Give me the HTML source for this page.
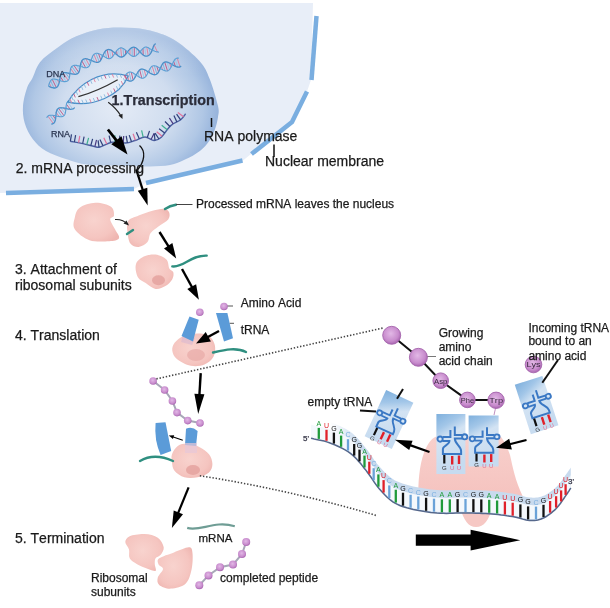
<!DOCTYPE html>
<html><head><meta charset="utf-8"><style>
html,body{margin:0;padding:0;background:#fff;}
svg{display:block;font-family:"Liberation Sans",sans-serif;will-change:transform;font-kerning:none;filter:blur(0.3px);}
</style></head><body>
<svg width="610" height="608" viewBox="0 0 610 608">
<defs>
<radialGradient id="nucG" gradientUnits="userSpaceOnUse" cx="118" cy="108" r="100" gradientTransform="translate(118,108) scale(1,0.78) translate(-118,-108)">
 <stop offset="0" stop-color="#e4ebf6"/>
 <stop offset="0.55" stop-color="#d0ddef"/>
 <stop offset="0.85" stop-color="#b0c7e5"/>
 <stop offset="1" stop-color="#97b4dc"/>
</radialGradient>
<linearGradient id="nucTop" gradientUnits="userSpaceOnUse" x1="0" y1="27" x2="0" y2="75">
 <stop offset="0" stop-color="#ffffff" stop-opacity="0.3"/>
 <stop offset="1" stop-color="#ffffff" stop-opacity="0"/>
</linearGradient>
<radialGradient id="pinkG" cx="0.45" cy="0.45" r="0.65">
 <stop offset="0" stop-color="#f8d3ce"/>
 <stop offset="0.7" stop-color="#f5c5c0"/>
 <stop offset="1" stop-color="#efb6b1"/>
</radialGradient>
<linearGradient id="boxG" x1="0" y1="0" x2="0.3" y2="1">
 <stop offset="0" stop-color="#7fb0dd"/>
 <stop offset="0.25" stop-color="#a2c6e8"/>
 <stop offset="0.45" stop-color="#d3e3f3"/>
 <stop offset="1" stop-color="#c6dbf0"/>
</linearGradient>
<linearGradient id="riboG" x1="0" y1="0" x2="0" y2="1">
 <stop offset="0" stop-color="#f8d0cc"/>
 <stop offset="1" stop-color="#f5c3bf"/>
</linearGradient>
<radialGradient id="ballG" cx="0.45" cy="0.4" r="0.6">
 <stop offset="0" stop-color="#e2b8e6"/>
 <stop offset="0.7" stop-color="#c88ccd"/>
 <stop offset="1" stop-color="#a865b0"/>
</radialGradient>
</defs>
<path d="M0,3 L313,3 L311,80 L307,91.5 L292,122 L251,154 L243,160.5 L146,183 L134,189 L0,193 Z" fill="#e8eef8"/>
<g stroke="#7aaee0" stroke-width="4.5" fill="none" stroke-linecap="butt"><path d="M316.5,16 L311.5,80"/><path d="M307,91.5 L292,122 L251.5,154"/><path d="M242.5,160.5 L146,183"/><path d="M134,189 L6,193"/></g>
<path d="M40.0,62.2 C43.9,57.4 50.5,53.0 55.7,49.1 C61.0,45.2 65.4,41.7 71.5,38.6 C77.6,35.5 85.5,32.5 92.5,30.7 C99.5,28.9 106.4,28.0 113.4,27.6 C120.4,27.2 127.4,27.4 134.4,28.1 C141.4,28.8 148.4,29.8 155.4,32.0 C162.4,34.2 169.0,36.3 176.4,41.2 C183.8,46.1 194.4,55.2 199.9,61.4 C205.4,67.6 206.5,71.0 209.5,78.4 C212.5,85.8 216.6,99.6 218.0,106.0 C219.4,112.4 218.5,113.0 218.0,117.0 C217.5,121.0 216.2,125.8 214.8,129.7 C213.4,133.6 212.0,136.8 209.5,140.4 C207.0,144.0 204.0,147.8 199.9,151.0 C195.8,154.2 190.0,157.3 185.0,159.6 C180.0,161.9 175.8,163.9 170.0,165.0 C164.2,166.1 157.0,166.2 150.0,166.4 C143.0,166.6 138.2,166.3 128.0,166.0 C117.8,165.7 99.1,166.0 88.7,164.8 C78.3,163.6 72.9,161.3 65.8,159.0 C58.7,156.7 51.5,154.3 46.0,151.0 C40.5,147.7 36.4,144.0 32.9,139.3 C29.3,134.6 26.3,128.6 24.7,123.0 C23.1,117.5 22.6,111.8 23.0,106.0 C23.4,100.2 25.4,92.7 27.0,88.0 C28.6,83.3 30.3,82.3 32.5,78.0 C34.7,73.7 36.1,67.0 40.0,62.2Z" fill="url(#nucG)"/>
<path d="M40.0,62.2 C43.9,57.4 50.5,53.0 55.7,49.1 C61.0,45.2 65.4,41.7 71.5,38.6 C77.6,35.5 85.5,32.5 92.5,30.7 C99.5,28.9 106.4,28.0 113.4,27.6 C120.4,27.2 127.4,27.4 134.4,28.1 C141.4,28.8 148.4,29.8 155.4,32.0 C162.4,34.2 169.0,36.3 176.4,41.2 C183.8,46.1 194.4,55.2 199.9,61.4 C205.4,67.6 206.5,71.0 209.5,78.4 C212.5,85.8 216.6,99.6 218.0,106.0 C219.4,112.4 218.5,113.0 218.0,117.0 C217.5,121.0 216.2,125.8 214.8,129.7 C213.4,133.6 212.0,136.8 209.5,140.4 C207.0,144.0 204.0,147.8 199.9,151.0 C195.8,154.2 190.0,157.3 185.0,159.6 C180.0,161.9 175.8,163.9 170.0,165.0 C164.2,166.1 157.0,166.2 150.0,166.4 C143.0,166.6 138.2,166.3 128.0,166.0 C117.8,165.7 99.1,166.0 88.7,164.8 C78.3,163.6 72.9,161.3 65.8,159.0 C58.7,156.7 51.5,154.3 46.0,151.0 C40.5,147.7 36.4,144.0 32.9,139.3 C29.3,134.6 26.3,128.6 24.7,123.0 C23.1,117.5 22.6,111.8 23.0,106.0 C23.4,100.2 25.4,92.7 27.0,88.0 C28.6,83.3 30.3,82.3 32.5,78.0 C34.7,73.7 36.1,67.0 40.0,62.2Z" fill="url(#nucTop)"/>
<line x1="51.2" y1="87.3" x2="49.4" y2="83.3" stroke="#e07a9a" stroke-width="0.9"/>
<line x1="54.0" y1="88.0" x2="50.6" y2="80.8" stroke="#7fb0d8" stroke-width="0.9"/>
<line x1="56.3" y1="87.5" x2="52.2" y2="79.3" stroke="#c05080" stroke-width="0.9"/>
<line x1="58.0" y1="85.8" x2="54.4" y2="79.0" stroke="#9ec4e6" stroke-width="0.9"/>
<line x1="59.1" y1="83.0" x2="57.2" y2="79.7" stroke="#e07a9a" stroke-width="0.9"/>
<line x1="59.8" y1="79.8" x2="60.4" y2="80.8" stroke="#7fb0d8" stroke-width="0.9"/>
<line x1="60.4" y1="76.7" x2="63.5" y2="81.5" stroke="#c05080" stroke-width="0.9"/>
<line x1="61.3" y1="74.3" x2="66.2" y2="81.5" stroke="#9ec4e6" stroke-width="0.9"/>
<line x1="63.0" y1="72.9" x2="68.2" y2="80.3" stroke="#e07a9a" stroke-width="0.9"/>
<line x1="65.4" y1="72.6" x2="69.3" y2="78.0" stroke="#7fb0d8" stroke-width="0.9"/>
<line x1="68.5" y1="73.1" x2="69.8" y2="75.0" stroke="#c05080" stroke-width="0.9"/>
<line x1="71.7" y1="73.9" x2="70.1" y2="71.6" stroke="#9ec4e6" stroke-width="0.9"/>
<line x1="74.7" y1="74.3" x2="70.7" y2="68.6" stroke="#e07a9a" stroke-width="0.9"/>
<line x1="77.1" y1="73.9" x2="71.9" y2="66.5" stroke="#7fb0d8" stroke-width="0.9"/>
<line x1="78.7" y1="72.4" x2="73.9" y2="65.4" stroke="#c05080" stroke-width="0.9"/>
<line x1="79.6" y1="69.9" x2="76.6" y2="65.4" stroke="#9ec4e6" stroke-width="0.9"/>
<line x1="80.1" y1="66.8" x2="79.8" y2="66.2" stroke="#e07a9a" stroke-width="0.9"/>
<line x1="80.8" y1="63.5" x2="82.9" y2="67.2" stroke="#7fb0d8" stroke-width="0.9"/>
<line x1="81.8" y1="60.8" x2="85.7" y2="67.7" stroke="#c05080" stroke-width="0.9"/>
<line x1="83.5" y1="59.2" x2="87.9" y2="67.2" stroke="#9ec4e6" stroke-width="0.9"/>
<line x1="85.8" y1="58.7" x2="89.4" y2="65.6" stroke="#e07a9a" stroke-width="0.9"/>
<line x1="88.7" y1="59.4" x2="90.5" y2="63.0" stroke="#7fb0d8" stroke-width="0.9"/>
<line x1="91.7" y1="60.6" x2="91.4" y2="59.8" stroke="#c05080" stroke-width="0.9"/>
<line x1="94.7" y1="61.8" x2="92.4" y2="56.7" stroke="#9ec4e6" stroke-width="0.9"/>
<line x1="97.2" y1="62.4" x2="93.9" y2="54.4" stroke="#e07a9a" stroke-width="0.9"/>
<line x1="99.3" y1="61.8" x2="95.9" y2="53.4" stroke="#7fb0d8" stroke-width="0.9"/>
<line x1="100.8" y1="59.9" x2="98.5" y2="53.6" stroke="#c05080" stroke-width="0.9"/>
<line x1="102.1" y1="57.2" x2="101.3" y2="54.8" stroke="#9ec4e6" stroke-width="0.9"/>
<line x1="103.4" y1="54.2" x2="104.2" y2="56.6" stroke="#e07a9a" stroke-width="0.9"/>
<line x1="105.1" y1="51.5" x2="106.7" y2="58.1" stroke="#7fb0d8" stroke-width="0.9"/>
<line x1="107.1" y1="49.8" x2="109.0" y2="58.7" stroke="#c05080" stroke-width="0.9"/>
<line x1="109.5" y1="49.6" x2="111.0" y2="58.1" stroke="#9ec4e6" stroke-width="0.9"/>
<line x1="112.0" y1="50.7" x2="112.8" y2="56.2" stroke="#e07a9a" stroke-width="0.9"/>
<line x1="114.5" y1="52.7" x2="114.6" y2="53.6" stroke="#7fb0d8" stroke-width="0.9"/>
<line x1="117.0" y1="54.9" x2="116.6" y2="50.9" stroke="#c05080" stroke-width="0.9"/>
<line x1="119.3" y1="56.5" x2="118.6" y2="48.8" stroke="#9ec4e6" stroke-width="0.9"/>
<line x1="121.6" y1="57.0" x2="120.7" y2="47.9" stroke="#e07a9a" stroke-width="0.9"/>
<line x1="123.7" y1="56.2" x2="123.0" y2="48.3" stroke="#7fb0d8" stroke-width="0.9"/>
<line x1="125.7" y1="54.2" x2="125.4" y2="50.0" stroke="#c05080" stroke-width="0.9"/>
<line x1="127.7" y1="51.6" x2="127.7" y2="52.3" stroke="#9ec4e6" stroke-width="0.9"/>
<line x1="129.9" y1="49.2" x2="130.0" y2="54.6" stroke="#e07a9a" stroke-width="0.9"/>
<line x1="132.1" y1="47.6" x2="132.2" y2="56.1" stroke="#7fb0d8" stroke-width="0.9"/>
<line x1="134.3" y1="47.3" x2="134.3" y2="56.4" stroke="#c05080" stroke-width="0.9"/>
<line x1="136.5" y1="48.4" x2="136.5" y2="55.3" stroke="#9ec4e6" stroke-width="0.9"/>
<line x1="138.7" y1="50.5" x2="138.7" y2="53.2" stroke="#e07a9a" stroke-width="0.9"/>
<line x1="140.9" y1="53.0" x2="140.9" y2="50.7" stroke="#7fb0d8" stroke-width="0.9"/>
<line x1="143.2" y1="55.1" x2="143.0" y2="48.5" stroke="#c05080" stroke-width="0.9"/>
<line x1="145.8" y1="56.1" x2="144.8" y2="47.2" stroke="#9ec4e6" stroke-width="0.9"/>
<line x1="148.2" y1="55.6" x2="146.8" y2="47.1" stroke="#e07a9a" stroke-width="0.9"/>
<line x1="150.4" y1="53.7" x2="148.9" y2="48.1" stroke="#7fb0d8" stroke-width="0.9"/>
<line x1="151.9" y1="50.8" x2="151.5" y2="49.7" stroke="#c05080" stroke-width="0.9"/>
<line x1="153.0" y1="47.6" x2="154.5" y2="51.1" stroke="#9ec4e6" stroke-width="0.9"/>
<line x1="154.1" y1="45.0" x2="157.4" y2="51.9" stroke="#e07a9a" stroke-width="0.9"/>
<path d="M48.5,86.2 L49.2,86.5 L49.9,86.8 L50.6,87.1 L51.2,87.3 L51.9,87.6 L52.5,87.7 L53.2,87.9 L53.8,88.0 L54.4,88.0 L54.9,88.0 L55.4,87.9 L56.0,87.7 L56.4,87.5 L56.9,87.2 L57.2,86.8 L57.6,86.4 L58.0,85.9 L58.2,85.3 L58.5,84.8 L58.8,84.1 L59.0,83.4 L59.2,82.7 L59.3,82.0 L59.5,81.3 L59.6,80.5 L59.8,79.8 L59.9,79.0 L60.0,78.3 L60.1,77.6 L60.3,76.9 L60.5,76.3 L60.7,75.7 L60.8,75.2 L61.1,74.7 L61.4,74.2 L61.7,73.8 L62.0,73.5 L62.4,73.2 L62.9,73.0 L63.4,72.8 L63.9,72.7 L64.4,72.7 L65.0,72.6 L65.7,72.7 L66.3,72.7 L67.0,72.8 L67.7,73.0 L68.5,73.1 L69.2,73.3 L70.0,73.5 L70.7,73.6 L71.4,73.8 L72.2,73.9 L72.9,74.1 L73.6,74.2 L74.2,74.2 L74.9,74.3 L75.5,74.3 L76.0,74.2 L76.5,74.1 L77.0,73.9 L77.5,73.7 L77.8,73.4 L78.2,73.1 L78.5,72.7 L78.8,72.2 L79.1,71.7 L79.2,71.2 L79.4,70.6 L79.6,69.9 L79.8,69.2 L79.9,68.5 L80.0,67.8 L80.1,67.1 L80.2,66.3 L80.3,65.6 L80.5,64.8 L80.6,64.1 L80.8,63.4 L81.0,62.7 L81.3,62.0 L81.5,61.4 L81.8,60.9 L82.1,60.4 L82.5,60.0 L82.8,59.6 L83.2,59.3 L83.7,59.1 L84.2,58.9 L84.7,58.8 L85.3,58.7 L85.8,58.7 L86.5,58.8 L87.1,58.9 L87.8,59.1 L88.4,59.3 L89.1,59.5 L89.8,59.8 L90.5,60.1 L91.2,60.4 L91.9,60.7 L92.6,61.0 L93.3,61.3 L94.0,61.6 L94.6,61.8 L95.2,62.0 L95.8,62.2 L96.4,62.3 L96.9,62.3 L97.5,62.3 L98.0,62.3 L98.5,62.1 L98.9,62.0 L99.3,61.7 L99.7,61.4 L100.1,61.0 L100.4,60.6 L100.7,60.1 L101.0,59.6 L101.4,59.0 L101.6,58.4 L101.9,57.7 L102.2,57.0 L102.5,56.3 L102.8,55.6 L103.1,54.9 L103.4,54.2 L103.8,53.6 L104.1,52.9 L104.5,52.3 L104.8,51.8 L105.3,51.2 L105.7,50.8 L106.1,50.4 L106.7,50.1 L107.2,49.8 L107.6,49.7 L108.1,49.6 L108.8,49.5 L109.3,49.6 L109.8,49.7 L110.4,49.9 L111.0,50.1 L111.6,50.4 L112.1,50.8 L112.7,51.2 L113.3,51.7 L113.9,52.1 L114.4,52.6 L115.0,53.1 L115.6,53.7 L116.2,54.2 L116.7,54.6 L117.2,55.1 L117.8,55.5 L118.3,55.9 L118.8,56.3 L119.4,56.6 L119.9,56.8 L120.4,56.9 L120.9,57.0 L121.4,57.1 L121.9,57.0 L122.4,56.9 L122.9,56.7 L123.3,56.4 L123.8,56.1 L124.3,55.7 L124.7,55.3 L125.2,54.8 L125.6,54.2 L126.1,53.7 L126.6,53.1 L127.0,52.5 L127.5,51.9 L127.9,51.3 L128.4,50.7 L128.9,50.1 L129.4,49.6 L129.9,49.1 L130.4,48.7 L130.9,48.3 L131.4,47.9 L131.9,47.6 L132.4,47.4 L133.0,47.3 L133.5,47.2 L134.0,47.2 L134.5,47.3 L135.0,47.5 L135.5,47.7 L136.0,48.0 L136.5,48.3 L137.0,48.7 L137.5,49.2 L138.0,49.7 L138.5,50.2 L139.0,50.8 L139.5,51.3 L140.0,51.9 L140.5,52.5 L141.0,53.0 L141.5,53.6 L142.0,54.1 L142.6,54.5 L143.1,55.0 L143.6,55.3 L144.2,55.6 L144.7,55.9 L145.3,56.1 L146.0,56.1 L146.5,56.1 L147.0,56.1 L147.7,55.9 L148.2,55.7 L148.8,55.3 L149.3,54.9 L149.7,54.5 L150.2,53.9 L150.6,53.4 L151.0,52.7 L151.3,52.1 L151.7,51.4 L152.0,50.7 L152.2,50.0 L152.5,49.2 L152.7,48.5 L152.9,47.8 L153.2,47.2 L153.4,46.5 L153.6,45.9 L153.9,45.4 L154.2,44.8 L154.7,44.4 L155.2,43.9 L155.7,43.6" stroke="#4a8fc8" stroke-width="1.3" fill="none"/>
<path d="M48.5,86.2 L48.7,85.5 L48.9,84.7 L49.1,84.0 L49.4,83.3 L49.6,82.7 L49.9,82.0 L50.1,81.5 L50.4,81.0 L50.7,80.5 L51.1,80.1 L51.5,79.7 L51.9,79.5 L52.3,79.3 L52.7,79.1 L53.2,79.0 L53.8,79.0 L54.3,79.0 L54.9,79.1 L55.5,79.2 L56.1,79.4 L56.8,79.6 L57.5,79.8 L58.2,80.0 L58.9,80.3 L59.6,80.5 L60.4,80.8 L61.1,81.0 L61.8,81.2 L62.6,81.3 L63.2,81.5 L63.9,81.6 L64.5,81.6 L65.2,81.6 L65.8,81.5 L66.3,81.4 L66.8,81.3 L67.3,81.0 L67.7,80.7 L68.1,80.4 L68.4,80.0 L68.7,79.5 L69.0,78.9 L69.2,78.4 L69.4,77.8 L69.5,77.1 L69.6,76.4 L69.7,75.7 L69.8,74.9 L69.9,74.2 L69.9,73.4 L70.0,72.7 L70.1,71.9 L70.2,71.2 L70.3,70.5 L70.4,69.8 L70.5,69.1 L70.7,68.5 L70.9,67.9 L71.2,67.4 L71.5,66.9 L71.8,66.5 L72.2,66.2 L72.6,65.9 L73.1,65.7 L73.6,65.5 L74.1,65.4 L74.7,65.3 L75.3,65.3 L76.0,65.4 L76.6,65.4 L77.3,65.6 L78.1,65.7 L78.8,65.9 L79.5,66.1 L80.2,66.3 L81.0,66.6 L81.7,66.8 L82.4,67.0 L83.1,67.2 L83.8,67.4 L84.3,67.6 L85.0,67.7 L85.6,67.7 L86.1,67.7 L86.6,67.7 L87.1,67.5 L87.6,67.4 L88.1,67.1 L88.4,66.9 L88.8,66.5 L89.1,66.1 L89.4,65.6 L89.7,65.1 L89.9,64.5 L90.2,63.9 L90.4,63.2 L90.6,62.5 L90.8,61.8 L91.0,61.1 L91.2,60.3 L91.4,59.6 L91.6,58.9 L91.8,58.2 L92.1,57.5 L92.4,56.8 L92.6,56.2 L92.9,55.6 L93.3,55.1 L93.7,54.6 L94.1,54.3 L94.5,53.9 L94.9,53.7 L95.5,53.5 L96.0,53.3 L96.5,53.3 L97.0,53.3 L97.7,53.4 L98.3,53.5 L98.9,53.7 L99.5,54.0 L100.2,54.2 L100.8,54.6 L101.5,54.9 L102.2,55.3 L102.8,55.7 L103.5,56.1 L104.1,56.5 L104.7,56.9 L105.3,57.3 L105.9,57.6 L106.5,57.9 L107.0,58.2 L107.6,58.4 L108.1,58.5 L108.5,58.6 L109.1,58.7 L109.6,58.6 L110.0,58.5 L110.4,58.4 L110.9,58.1 L111.3,57.8 L111.8,57.5 L112.1,57.1 L112.5,56.6 L113.0,56.1 L113.3,55.5 L113.8,54.9 L114.2,54.3 L114.6,53.7 L115.0,53.0 L115.4,52.4 L115.9,51.8 L116.3,51.2 L116.8,50.6 L117.2,50.1 L117.7,49.6 L118.2,49.1 L118.6,48.8 L119.1,48.4 L119.6,48.2 L120.1,48.0 L120.6,47.9 L121.1,47.9 L121.6,47.9 L122.1,48.0 L122.6,48.2 L123.1,48.4 L123.7,48.7 L124.2,49.1 L124.7,49.5 L125.3,49.9 L125.9,50.4 L126.4,50.9 L126.9,51.5 L127.5,52.0 L128.0,52.6 L128.5,53.1 L129.0,53.6 L129.5,54.1 L130.0,54.6 L130.5,55.0 L131.0,55.4 L131.5,55.8 L132.0,56.0 L132.5,56.2 L133.0,56.4 L133.5,56.4 L134.0,56.4 L134.5,56.3 L135.0,56.2 L135.5,56.0 L136.0,55.7 L136.5,55.3 L137.0,54.9 L137.5,54.5 L138.0,54.0 L138.5,53.5 L139.0,52.9 L139.5,52.3 L140.0,51.8 L140.5,51.2 L141.0,50.6 L141.4,50.1 L141.9,49.5 L142.4,49.0 L142.9,48.6 L143.4,48.2 L143.7,47.8 L144.2,47.5 L144.7,47.3 L145.0,47.1 L145.5,47.0 L146.0,47.0 L146.2,47.0 L146.8,47.1 L147.1,47.2 L147.6,47.4 L148.2,47.6 L148.6,48.0 L149.2,48.3 L149.7,48.6 L150.4,49.0 L151.0,49.3 L151.6,49.7 L152.3,50.1 L153.0,50.4 L153.7,50.8 L154.4,51.1 L155.0,51.3 L155.7,51.5 L156.4,51.7 L157.0,51.9 L157.6,51.9 L158.1,52.0 L158.4,52.1 L158.9,52.0" stroke="#5a9fd4" stroke-width="1.1" fill="none"/>
<line x1="53.3" y1="123.5" x2="47.9" y2="116.1" stroke="#e07a9a" stroke-width="0.9"/>
<line x1="54.8" y1="121.8" x2="50.0" y2="115.2" stroke="#7fb0d8" stroke-width="0.9"/>
<line x1="55.5" y1="119.1" x2="52.8" y2="115.3" stroke="#c05080" stroke-width="0.9"/>
<line x1="55.9" y1="115.8" x2="56.0" y2="116.0" stroke="#9ec4e6" stroke-width="0.9"/>
<line x1="56.2" y1="112.6" x2="59.2" y2="116.6" stroke="#e07a9a" stroke-width="0.9"/>
<line x1="57.0" y1="109.9" x2="61.9" y2="116.6" stroke="#7fb0d8" stroke-width="0.9"/>
<line x1="58.5" y1="108.3" x2="63.9" y2="115.6" stroke="#c05080" stroke-width="0.9"/>
<line x1="60.8" y1="107.7" x2="65.2" y2="113.6" stroke="#9ec4e6" stroke-width="0.9"/>
<line x1="63.8" y1="108.1" x2="65.7" y2="110.6" stroke="#e07a9a" stroke-width="0.9"/>
<line x1="67.1" y1="108.8" x2="66.0" y2="107.3" stroke="#7fb0d8" stroke-width="0.9"/>
<line x1="70.2" y1="109.3" x2="66.4" y2="104.2" stroke="#c05080" stroke-width="0.9"/>
<line x1="72.7" y1="109.0" x2="67.4" y2="101.9" stroke="#9ec4e6" stroke-width="0.9"/>
<path d="M51.3,124.1 L51.9,124.0 L52.4,123.9 L52.9,123.7 L53.3,123.5 L53.7,123.2 L54.1,122.8 L54.4,122.4 L54.7,122.0 L54.9,121.4 L55.1,120.9 L55.3,120.3 L55.4,119.6 L55.6,118.9 L55.7,118.2 L55.7,117.4 L55.8,116.7 L55.9,115.9 L55.9,115.2 L56.0,114.4 L56.1,113.7 L56.1,112.9 L56.3,112.3 L56.4,111.6 L56.6,111.0 L56.8,110.4 L57.0,109.9 L57.3,109.4 L57.6,109.0 L58.0,108.7 L58.4,108.4 L58.8,108.1 L59.3,107.9 L59.9,107.8 L60.4,107.8 L61.0,107.7 L61.7,107.8 L62.3,107.8 L63.0,107.9 L63.8,108.0 L64.5,108.2 L65.2,108.4 L66.0,108.5 L66.7,108.7 L67.5,108.8 L68.2,109.0 L68.9,109.1 L69.6,109.2 L70.3,109.3 L70.9,109.3 L71.5,109.2 L72.1,109.2 L72.6,109.0 L73.1,108.8 L73.5,108.6 L73.9,108.3 L74.3,107.9 L74.6,107.5" stroke="#4a8fc8" stroke-width="1.3" fill="none"/>
<path d="M46.7,117.9 L46.9,117.4 L47.2,116.9 L47.5,116.5 L47.9,116.1 L48.3,115.8 L48.7,115.6 L49.2,115.4 L49.8,115.3 L50.3,115.2 L50.9,115.2 L51.6,115.2 L52.2,115.2 L52.9,115.3 L53.6,115.5 L54.4,115.6 L55.1,115.8 L55.9,115.9 L56.6,116.1 L57.4,116.3 L58.1,116.4 L58.8,116.5 L59.5,116.6 L60.2,116.7 L60.8,116.7 L61.4,116.7 L62.0,116.6 L62.5,116.5 L63.0,116.3 L63.4,116.0 L63.8,115.7 L64.2,115.4 L64.5,115.0 L64.8,114.5 L65.0,114.0 L65.2,113.4 L65.4,112.8 L65.5,112.1 L65.6,111.4 L65.7,110.7 L65.8,109.9 L65.9,109.2 L65.9,108.4 L66.0,107.7 L66.0,106.9 L66.1,106.2 L66.2,105.4 L66.3,104.8 L66.5,104.1 L66.6,103.5 L66.8,102.9 L67.1,102.4 L67.4,102.0 L67.7,101.5 L68.1,101.2 L68.5,100.9 L68.9,100.7 L69.4,100.5" stroke="#5a9fd4" stroke-width="1.1" fill="none"/>
<line x1="128.9" y1="80.9" x2="127.0" y2="73.4" stroke="#e07a9a" stroke-width="0.9"/>
<line x1="131.2" y1="81.1" x2="129.0" y2="72.1" stroke="#7fb0d8" stroke-width="0.9"/>
<line x1="133.1" y1="79.9" x2="131.3" y2="72.3" stroke="#c05080" stroke-width="0.9"/>
<line x1="134.9" y1="77.6" x2="133.9" y2="73.5" stroke="#9ec4e6" stroke-width="0.9"/>
<line x1="136.4" y1="74.7" x2="136.6" y2="75.4" stroke="#e07a9a" stroke-width="0.9"/>
<line x1="138.0" y1="71.9" x2="139.3" y2="77.1" stroke="#7fb0d8" stroke-width="0.9"/>
<line x1="139.7" y1="69.9" x2="141.8" y2="78.1" stroke="#c05080" stroke-width="0.9"/>
<line x1="141.8" y1="69.0" x2="144.0" y2="77.8" stroke="#9ec4e6" stroke-width="0.9"/>
<line x1="144.1" y1="69.5" x2="145.9" y2="76.2" stroke="#e07a9a" stroke-width="0.9"/>
<line x1="146.8" y1="71.0" x2="147.5" y2="73.6" stroke="#7fb0d8" stroke-width="0.9"/>
<line x1="149.6" y1="72.8" x2="149.0" y2="70.6" stroke="#c05080" stroke-width="0.9"/>
<line x1="152.3" y1="74.3" x2="150.4" y2="67.9" stroke="#9ec4e6" stroke-width="0.9"/>
<line x1="154.8" y1="74.8" x2="152.2" y2="66.2" stroke="#e07a9a" stroke-width="0.9"/>
<line x1="156.9" y1="74.0" x2="154.3" y2="65.7" stroke="#7fb0d8" stroke-width="0.9"/>
<line x1="158.5" y1="71.9" x2="156.8" y2="66.4" stroke="#c05080" stroke-width="0.9"/>
<line x1="160.0" y1="69.1" x2="159.6" y2="67.9" stroke="#9ec4e6" stroke-width="0.9"/>
<line x1="161.3" y1="66.0" x2="162.5" y2="69.7" stroke="#e07a9a" stroke-width="0.9"/>
<line x1="162.8" y1="63.5" x2="165.1" y2="70.8" stroke="#7fb0d8" stroke-width="0.9"/>
<line x1="164.7" y1="62.1" x2="167.5" y2="70.9" stroke="#c05080" stroke-width="0.9"/>
<line x1="166.9" y1="62.0" x2="169.4" y2="69.6" stroke="#9ec4e6" stroke-width="0.9"/>
<line x1="169.6" y1="63.0" x2="170.9" y2="67.3" stroke="#e07a9a" stroke-width="0.9"/>
<line x1="172.4" y1="64.7" x2="172.3" y2="64.3" stroke="#7fb0d8" stroke-width="0.9"/>
<line x1="175.3" y1="66.3" x2="173.6" y2="61.3" stroke="#c05080" stroke-width="0.9"/>
<line x1="177.8" y1="67.1" x2="175.2" y2="59.1" stroke="#9ec4e6" stroke-width="0.9"/>
<line x1="180.0" y1="66.8" x2="177.2" y2="58.1" stroke="#e07a9a" stroke-width="0.9"/>
<path d="M126.5,79.7 L127.1,80.1 L127.7,80.4 L128.3,80.7 L128.9,80.9 L129.4,81.0 L129.9,81.1 L130.5,81.2 L131.0,81.1 L131.5,81.0 L131.9,80.8 L132.4,80.5 L132.8,80.2 L133.3,79.8 L133.7,79.4 L134.1,78.9 L134.4,78.3 L134.8,77.7 L135.2,77.1 L135.5,76.4 L135.9,75.8 L136.2,75.1 L136.6,74.4 L136.9,73.7 L137.3,73.1 L137.7,72.4 L138.0,71.8 L138.4,71.3 L138.8,70.8 L139.2,70.3 L139.6,70.0 L140.0,69.6 L140.5,69.4 L140.9,69.2 L141.4,69.1 L141.9,69.0 L142.4,69.1 L143.0,69.1 L143.5,69.3 L144.1,69.5 L144.7,69.8 L145.3,70.1 L145.9,70.4 L146.5,70.8 L147.2,71.2 L147.8,71.6 L148.4,72.0 L149.1,72.5 L149.7,72.9 L150.3,73.3 L151.0,73.6 L151.6,73.9 L152.2,74.2 L152.8,74.4 L153.4,74.6 L154.0,74.7 L154.5,74.8 L155.0,74.7 L155.5,74.7 L156.0,74.5 L156.5,74.3 L156.9,73.9 L157.3,73.6 L157.7,73.2 L158.1,72.7 L158.4,72.1 L158.8,71.5 L159.1,70.9 L159.4,70.2 L159.7,69.6 L160.1,68.9 L160.4,68.2 L160.7,67.5 L161.0,66.8 L161.3,66.1 L161.6,65.5 L161.9,64.8 L162.3,64.3 L162.6,63.8 L163.0,63.3 L163.4,62.9 L163.8,62.6 L164.3,62.3 L164.7,62.1 L165.2,62.0 L165.7,61.9 L166.3,61.9 L166.8,62.0 L167.4,62.1 L168.0,62.3 L168.6,62.6 L169.2,62.8 L169.8,63.2 L170.5,63.5 L171.1,63.9 L171.8,64.3 L172.4,64.7 L173.1,65.1 L173.7,65.5 L174.4,65.8 L175.0,66.1 L175.6,66.4 L176.2,66.7 L176.8,66.9 L177.4,67.0 L178.0,67.1 L178.5,67.2 L179.0,67.1 L179.5,67.0 L180.0,66.8 L180.4,66.6 L180.8,66.2 L181.2,65.9" stroke="#4a8fc8" stroke-width="1.3" fill="none"/>
<path d="M125.5,75.5 L125.8,74.9 L126.2,74.3 L126.6,73.8 L127.0,73.3 L127.5,73.0 L127.9,72.6 L128.4,72.4 L128.8,72.2 L129.3,72.1 L129.8,72.0 L130.3,72.0 L130.9,72.1 L131.4,72.3 L132.0,72.5 L132.6,72.8 L133.2,73.1 L133.8,73.5 L134.4,73.9 L135.0,74.3 L135.6,74.7 L136.3,75.2 L136.9,75.6 L137.5,76.0 L138.1,76.4 L138.7,76.8 L139.4,77.2 L139.9,77.5 L140.5,77.7 L141.1,77.9 L141.7,78.1 L142.2,78.2 L142.7,78.2 L143.2,78.1 L143.7,78.0 L144.2,77.7 L144.7,77.5 L145.1,77.1 L145.5,76.7 L145.9,76.3 L146.3,75.7 L146.7,75.2 L147.0,74.6 L147.4,73.9 L147.7,73.2 L148.0,72.6 L148.4,71.9 L148.7,71.2 L149.0,70.5 L149.4,69.8 L149.7,69.2 L150.0,68.6 L150.4,68.0 L150.7,67.5 L151.1,67.1 L151.5,66.7 L151.9,66.3 L152.4,66.1 L152.8,65.9 L153.3,65.7 L153.8,65.7 L154.3,65.7 L154.9,65.7 L155.4,65.9 L156.0,66.1 L156.6,66.3 L157.2,66.6 L157.9,66.9 L158.5,67.3 L159.2,67.7 L159.8,68.1 L160.5,68.5 L161.1,68.9 L161.8,69.3 L162.4,69.6 L163.0,70.0 L163.7,70.3 L164.3,70.5 L164.9,70.7 L165.4,70.9 L166.0,71.0 L166.5,71.0 L167.1,71.0 L167.6,70.9 L168.0,70.7 L168.5,70.4 L168.9,70.1 L169.3,69.7 L169.7,69.3 L170.1,68.8 L170.4,68.3 L170.7,67.7 L171.1,67.0 L171.4,66.4 L171.7,65.7 L172.0,65.0 L172.3,64.3 L172.6,63.6 L172.9,62.9 L173.2,62.2 L173.5,61.6 L173.9,61.0 L174.2,60.4 L174.6,59.9 L174.9,59.4 L175.3,59.0 L175.8,58.7 L176.2,58.4 L176.7,58.2 L177.2,58.1 L177.7,58.1 L178.2,58.1 L178.8,58.1" stroke="#5a9fd4" stroke-width="1.1" fill="none"/>
<path d="M67.9,102 C78,84 102,68 128.2,76 C120,96 92,108 67.9,102 Z" fill="#eef3fa" fill-opacity="0.75" stroke="#4a8fc8" stroke-width="1.3"/>
<line x1="69.6" y1="99.2" x2="71.2" y2="102.9" stroke="#8ab8dc" stroke-width="0.9"/>
<line x1="126.7" y1="79.1" x2="125.1" y2="75.4" stroke="#c05080" stroke-width="0.9"/>
<line x1="71.5" y1="96.4" x2="73.1" y2="100.1" stroke="#8ab8dc" stroke-width="0.9"/>
<line x1="125.0" y1="82.0" x2="123.4" y2="78.3" stroke="#8ab8dc" stroke-width="0.9"/>
<line x1="73.7" y1="93.7" x2="75.3" y2="97.4" stroke="#c05080" stroke-width="0.9"/>
<line x1="122.9" y1="84.8" x2="121.3" y2="81.1" stroke="#e07a9a" stroke-width="0.9"/>
<line x1="76.0" y1="91.1" x2="77.6" y2="94.8" stroke="#8ab8dc" stroke-width="0.9"/>
<line x1="120.6" y1="87.5" x2="119.0" y2="83.8" stroke="#8ab8dc" stroke-width="0.9"/>
<line x1="78.5" y1="88.6" x2="80.1" y2="92.3" stroke="#e07a9a" stroke-width="0.9"/>
<line x1="118.0" y1="89.9" x2="116.4" y2="86.2" stroke="#8ab8dc" stroke-width="0.9"/>
<line x1="81.3" y1="86.2" x2="82.9" y2="89.9" stroke="#8ab8dc" stroke-width="0.9"/>
<line x1="115.3" y1="92.2" x2="113.7" y2="88.5" stroke="#c05080" stroke-width="0.9"/>
<line x1="84.1" y1="84.0" x2="85.7" y2="87.7" stroke="#8ab8dc" stroke-width="0.9"/>
<line x1="112.3" y1="94.3" x2="110.7" y2="90.6" stroke="#8ab8dc" stroke-width="0.9"/>
<line x1="87.2" y1="82.0" x2="88.8" y2="85.7" stroke="#c05080" stroke-width="0.9"/>
<line x1="109.1" y1="96.3" x2="107.5" y2="92.6" stroke="#e07a9a" stroke-width="0.9"/>
<line x1="90.4" y1="80.1" x2="92.0" y2="83.8" stroke="#8ab8dc" stroke-width="0.9"/>
<line x1="105.7" y1="98.0" x2="104.1" y2="94.3" stroke="#8ab8dc" stroke-width="0.9"/>
<line x1="93.7" y1="78.4" x2="95.3" y2="82.1" stroke="#e07a9a" stroke-width="0.9"/>
<line x1="102.3" y1="99.5" x2="100.7" y2="95.8" stroke="#8ab8dc" stroke-width="0.9"/>
<line x1="97.1" y1="77.0" x2="98.7" y2="80.7" stroke="#8ab8dc" stroke-width="0.9"/>
<line x1="98.6" y1="100.8" x2="97.0" y2="97.1" stroke="#c05080" stroke-width="0.9"/>
<line x1="100.7" y1="75.8" x2="102.3" y2="79.5" stroke="#8ab8dc" stroke-width="0.9"/>
<line x1="94.9" y1="101.8" x2="93.3" y2="98.1" stroke="#8ab8dc" stroke-width="0.9"/>
<line x1="104.4" y1="74.9" x2="106.0" y2="78.6" stroke="#c05080" stroke-width="0.9"/>
<line x1="91.2" y1="102.6" x2="89.6" y2="98.9" stroke="#e07a9a" stroke-width="0.9"/>
<line x1="108.2" y1="74.3" x2="109.8" y2="78.0" stroke="#8ab8dc" stroke-width="0.9"/>
<line x1="87.3" y1="103.2" x2="85.7" y2="99.5" stroke="#8ab8dc" stroke-width="0.9"/>
<line x1="112.1" y1="73.9" x2="113.7" y2="77.6" stroke="#e07a9a" stroke-width="0.9"/>
<line x1="83.4" y1="103.5" x2="81.8" y2="99.8" stroke="#8ab8dc" stroke-width="0.9"/>
<line x1="116.0" y1="73.9" x2="117.6" y2="77.6" stroke="#8ab8dc" stroke-width="0.9"/>
<line x1="79.5" y1="103.5" x2="77.9" y2="99.8" stroke="#c05080" stroke-width="0.9"/>
<line x1="120.0" y1="74.2" x2="121.6" y2="77.9" stroke="#8ab8dc" stroke-width="0.9"/>
<line x1="75.6" y1="103.3" x2="74.0" y2="99.6" stroke="#8ab8dc" stroke-width="0.9"/>
<line x1="124.1" y1="74.9" x2="125.7" y2="78.6" stroke="#c05080" stroke-width="0.9"/>
<line x1="71.7" y1="102.8" x2="70.1" y2="99.1" stroke="#e07a9a" stroke-width="0.9"/>
<path d="M78.4,96.7 Q98,91 117.7,79.7" stroke="#333" stroke-width="1.3" fill="none"/>
<path d="M70.3,141.3 C72.4,141.7 79.0,142.7 83.0,143.6 C87.0,144.5 91.6,145.9 94.4,146.5 C97.2,147.1 97.1,147.7 100.0,147.0 C102.9,146.3 107.5,143.0 111.8,142.3 C116.1,141.6 121.7,143.3 125.6,143.0 C129.5,142.7 131.8,141.5 135.0,140.5 C138.2,139.5 141.8,137.0 145.0,137.0 C148.2,137.0 151.3,140.4 154.0,140.5 C156.7,140.6 158.2,139.9 161.0,137.4 C163.8,134.9 167.5,128.5 170.8,125.6 C174.1,122.6 178.2,121.7 180.7,119.7 C183.2,117.7 184.8,114.8 185.6,113.8" stroke="#4b5fa0" stroke-width="1.4" fill="none"/>
<line x1="70.3" y1="141.3" x2="71.5" y2="134.4" stroke="#2f3f7a" stroke-width="1.2"/>
<line x1="74.4" y1="142.0" x2="75.6" y2="135.1" stroke="#2f3f7a" stroke-width="1.2"/>
<line x1="78.6" y1="142.7" x2="79.8" y2="135.9" stroke="#e0709a" stroke-width="1.2"/>
<line x1="82.7" y1="143.5" x2="84.1" y2="136.7" stroke="#2f3f7a" stroke-width="1.2"/>
<line x1="86.8" y1="144.5" x2="88.6" y2="137.8" stroke="#40b090" stroke-width="1.2"/>
<line x1="90.8" y1="145.6" x2="92.6" y2="138.9" stroke="#2f3f7a" stroke-width="1.2"/>
<line x1="94.9" y1="146.6" x2="96.5" y2="139.8" stroke="#4a3a80" stroke-width="1.2"/>
<line x1="99.0" y1="147.2" x2="98.1" y2="140.3" stroke="#2f3f7a" stroke-width="1.2"/>
<line x1="103.0" y1="145.8" x2="99.9" y2="139.5" stroke="#2f3f7a" stroke-width="1.2"/>
<line x1="106.8" y1="144.0" x2="103.8" y2="137.7" stroke="#e0709a" stroke-width="1.2"/>
<line x1="110.7" y1="142.6" x2="109.1" y2="135.7" stroke="#2f3f7a" stroke-width="1.2"/>
<line x1="114.9" y1="142.2" x2="114.9" y2="135.2" stroke="#40b090" stroke-width="1.2"/>
<line x1="119.0" y1="142.5" x2="119.9" y2="135.6" stroke="#2f3f7a" stroke-width="1.2"/>
<line x1="123.2" y1="143.0" x2="123.7" y2="136.0" stroke="#4a3a80" stroke-width="1.2"/>
<line x1="127.4" y1="142.8" x2="126.2" y2="135.9" stroke="#2f3f7a" stroke-width="1.2"/>
<line x1="131.5" y1="141.7" x2="129.2" y2="135.1" stroke="#2f3f7a" stroke-width="1.2"/>
<line x1="135.4" y1="140.3" x2="133.1" y2="133.8" stroke="#e0709a" stroke-width="1.2"/>
<line x1="139.3" y1="138.7" x2="136.4" y2="132.3" stroke="#2f3f7a" stroke-width="1.2"/>
<line x1="143.2" y1="137.2" x2="141.6" y2="130.4" stroke="#40b090" stroke-width="1.2"/>
<line x1="147.3" y1="137.5" x2="149.5" y2="130.9" stroke="#2f3f7a" stroke-width="1.2"/>
<line x1="151.0" y1="139.5" x2="154.2" y2="133.2" stroke="#4a3a80" stroke-width="1.2"/>
<line x1="155.0" y1="140.5" x2="154.3" y2="133.5" stroke="#2f3f7a" stroke-width="1.2"/>
<line x1="158.9" y1="139.0" x2="155.1" y2="133.2" stroke="#2f3f7a" stroke-width="1.2"/>
<line x1="162.1" y1="136.3" x2="156.7" y2="131.8" stroke="#e0709a" stroke-width="1.2"/>
<line x1="164.7" y1="133.0" x2="159.1" y2="128.8" stroke="#2f3f7a" stroke-width="1.2"/>
<line x1="167.2" y1="129.7" x2="161.7" y2="125.3" stroke="#40b090" stroke-width="1.2"/>
<line x1="169.9" y1="126.5" x2="165.0" y2="121.5" stroke="#2f3f7a" stroke-width="1.2"/>
<line x1="173.2" y1="123.8" x2="169.4" y2="118.0" stroke="#4a3a80" stroke-width="1.2"/>
<line x1="176.9" y1="121.9" x2="173.9" y2="115.6" stroke="#2f3f7a" stroke-width="1.2"/>
<line x1="180.6" y1="119.8" x2="176.6" y2="114.1" stroke="#2f3f7a" stroke-width="1.2"/>
<line x1="183.5" y1="116.8" x2="177.9" y2="112.5" stroke="#e0709a" stroke-width="1.2"/>
<path d="M79.7,207.7 C83.1,205.2 90.2,203.0 95.4,202.8 C100.6,202.6 107.9,204.6 111.0,206.7 C114.1,208.8 114.1,213.5 114.0,215.6 C113.9,217.7 110.0,217.2 110.2,219.5 C110.4,221.8 113.5,226.2 115.0,229.3 C116.5,232.4 120.0,236.2 119.0,238.2 C118.0,240.2 114.1,240.9 109.2,241.2 C104.3,241.5 95.2,242.2 89.5,240.2 C83.8,238.2 77.2,233.1 74.8,229.3 C72.3,225.5 74.0,221.1 74.8,217.5 C75.6,213.9 76.3,210.1 79.7,207.7Z" fill="url(#pinkG)" />
<path d="M127.9,221.5 C129.7,218.2 134.6,217.4 138.7,215.6 C142.8,213.8 148.2,211.8 152.5,210.7 C156.8,209.5 161.5,208.4 164.3,208.7 C167.1,209.0 168.5,210.8 169.2,212.6 C169.8,214.4 170.0,217.2 168.2,219.5 C166.4,221.8 161.3,224.1 158.4,226.4 C155.5,228.7 152.3,230.7 150.5,233.3 C148.7,235.9 149.5,239.8 147.5,242.1 C145.5,244.4 141.5,246.7 138.7,247.0 C135.9,247.3 132.6,246.1 130.8,244.1 C129.0,242.1 128.4,239.0 127.9,235.2 C127.4,231.4 126.1,224.8 127.9,221.5Z" fill="url(#pinkG)" />
<path d="M135.9,264.4 C136.9,261.0 140.5,258.2 143.8,256.6 C147.1,255.0 151.8,254.1 155.6,254.6 C159.4,255.1 164.1,257.2 166.4,259.5 C168.7,261.8 168.2,266.3 169.3,268.4 C170.5,270.5 172.8,270.5 173.3,272.3 C173.8,274.1 173.6,276.9 172.3,279.2 C171.0,281.5 168.2,284.4 165.4,286.0 C162.6,287.6 158.9,289.5 155.6,289.0 C152.3,288.5 148.6,285.1 145.7,283.1 C142.8,281.1 139.5,280.3 137.9,277.2 C136.3,274.1 134.9,267.8 135.9,264.4Z" fill="url(#pinkG)" />
<ellipse cx="158.5" cy="280.2" rx="6.5" ry="5" fill="#e3a09c" opacity="0.8"/>
<path d="M174.6,342.8 C176.5,340.3 180.0,337.4 183.8,335.9 C187.6,334.4 193.3,333.6 197.5,333.6 C201.7,333.6 206.1,334.0 209.0,335.9 C211.9,337.8 214.0,341.6 214.8,345.0 C215.6,348.4 215.3,353.3 213.6,356.6 C211.9,359.9 208.2,363.1 204.4,364.6 C200.6,366.1 195.3,366.6 190.7,365.7 C186.1,364.8 180.0,361.4 176.9,358.9 C173.8,356.4 172.7,353.5 172.3,350.8 C171.9,348.1 172.7,345.3 174.6,342.8Z" fill="url(#pinkG)" />
<ellipse cx="196" cy="355" rx="9" ry="6" fill="#e8aaa6" opacity="0.7"/>
<polygon points="183,335 195,338 192,345 181,342" fill="#d8b8d0" opacity="0.6"/>
<path d="M172.0,454.3 C173.0,451.6 175.2,447.8 177.8,446.0 C180.4,444.2 184.1,443.5 187.7,443.6 C191.3,443.8 195.6,445.1 199.2,446.9 C202.8,448.7 206.8,451.4 209.0,454.3 C211.2,457.2 212.4,461.1 212.4,464.1 C212.4,467.1 211.5,470.2 209.0,472.4 C206.5,474.6 201.7,476.5 197.6,477.3 C193.5,478.1 188.2,478.4 184.4,477.3 C180.6,476.2 176.6,473.2 174.5,470.7 C172.4,468.2 172.4,465.2 172.0,462.5 C171.6,459.8 171.0,457.1 172.0,454.3Z" fill="url(#pinkG)" />
<ellipse cx="193" cy="470" rx="7" ry="5" fill="#e3a09c" opacity="0.8"/>
<path d="M125.3,542.1 C125.4,539.9 126.5,537.6 129.7,536.2 C132.9,534.9 139.8,533.8 144.5,534.0 C149.2,534.2 154.6,535.5 157.8,537.7 C161.0,539.9 163.2,544.5 163.7,547.3 C164.2,550.1 162.0,552.9 160.7,554.7 C159.3,556.5 156.6,556.7 155.6,558.3 C154.6,559.9 154.8,562.1 154.8,564.2 C154.8,566.3 156.8,570.1 155.6,570.9 C154.4,571.6 150.5,569.8 147.4,568.7 C144.3,567.6 140.1,565.9 137.1,564.2 C134.1,562.5 131.0,560.8 129.7,558.3 C128.3,555.8 129.7,552.2 129.0,549.5 C128.3,546.8 125.2,544.3 125.3,542.1Z" fill="url(#pinkG)" />
<path d="M159.2,558.3 C161.8,556.3 169.1,554.2 174.0,552.4 C178.9,550.6 185.6,547.3 188.7,547.3 C191.8,547.3 191.9,548.8 192.4,552.4 C192.9,556.0 192.8,563.5 191.7,568.7 C190.6,573.9 189.2,580.1 185.8,583.4 C182.4,586.7 175.4,588.4 171.0,588.6 C166.6,588.9 161.4,586.8 159.2,584.9 C157.0,583.0 157.2,580.1 157.8,577.5 C158.4,574.9 162.9,571.2 163.0,569.0 C163.1,566.8 159.1,566.0 158.5,564.2 C157.9,562.4 156.6,560.3 159.2,558.3Z" fill="url(#pinkG)" />
<g stroke="#2f8f80" stroke-width="2.4" fill="none" stroke-linecap="round"><path d="M127,234 L133,230"/><path d="M165,209 Q170,205.5 176,204.7"/><path d="M172.3,266.4 C184,268 190,255 206.7,255.6"/><path d="M213,352.5 C224,350 236,347 246,352"/><path d="M140,461 C150,455 162,456 173,461"/></g>
<path d="M187.2,527.9 C200,532 214,520 234.8,526.2" stroke="#6f9d95" stroke-width="2.2" fill="none"/>
<line x1="176" y1="204.5" x2="192.5" y2="204.5" stroke="#444" stroke-width="1"/>
<g fill="#5b9bd8"><polygon points="189.5,316.4 198.7,319.8 193,341.6 181.5,336"/><polygon points="216,313 227.4,313 233,338.2 224,341.6"/><path d="M155.6,423 L165.5,422.2 L171.2,451 L160.6,455 Q154,440 155.6,423Z"/><path d="M186,428.8 Q192,426 197.6,431 L196,446 L185,445Z"/></g>
<rect x="185" y="443" width="12" height="10" fill="#e7c8d8" opacity="0.7"/>
<line x1="229.7" y1="323.3" x2="234" y2="323.3" stroke="#555" stroke-width="1"/>
<line x1="227" y1="306" x2="233" y2="306" stroke="#555" stroke-width="1"/>
<circle cx="199.8" cy="312.3" r="3.8" fill="url(#ballG)"/>
<circle cx="224" cy="306.5" r="3.8" fill="url(#ballG)"/>
<path d="M153.1,381 L164.6,390 L172.4,401 L177,412.6 L187.7,420.6 L200,423" stroke="#a8a8b8" stroke-width="2" fill="none"/>
<circle cx="153.1" cy="381" r="3.8" fill="url(#ballG)"/>
<circle cx="164.6" cy="390" r="3.8" fill="url(#ballG)"/>
<circle cx="172.4" cy="401" r="3.8" fill="url(#ballG)"/>
<circle cx="177" cy="412.6" r="3.8" fill="url(#ballG)"/>
<circle cx="187.7" cy="420.6" r="3.8" fill="url(#ballG)"/>
<circle cx="200" cy="423" r="3.8" fill="url(#ballG)"/>
<path d="M199.3,585.2 L208.5,575.4 L220,567.2 L233,564.6 L242,554 L246.2,542" stroke="#a8a8b8" stroke-width="2" fill="none"/>
<circle cx="199.3" cy="585.2" r="4" fill="url(#ballG)"/>
<circle cx="208.5" cy="575.4" r="4" fill="url(#ballG)"/>
<circle cx="220" cy="567.2" r="4" fill="url(#ballG)"/>
<circle cx="233" cy="564.6" r="4" fill="url(#ballG)"/>
<circle cx="242" cy="554" r="4" fill="url(#ballG)"/>
<circle cx="246.2" cy="542" r="4" fill="url(#ballG)"/>
<g stroke="#444" stroke-width="1.6" stroke-dasharray="1.4,1.8" fill="none"><path d="M156.4,378.9 L383,328"/><path d="M199.8,475.7 Q290,490 377,515.7"/></g>
<line x1="107.9" y1="129.5" x2="117.0" y2="141.1" stroke="#000" stroke-width="2.8"/>
<polygon points="127.5,154.5 111.3,144.3 121.5,136.3" fill="#000"/>
<path d="M108.2,102.3 Q116,108 121,116" stroke="#222" stroke-width="1.1" fill="none"/>
<polygon points="122.5,119 118.5,115.5 122.5,113.8" fill="#222"/>
<path d="M139.5,145.5 C146,151 145,162 136.5,171" stroke="#111" stroke-width="1.3" fill="none"/>
<line x1="136.2" y1="169.3" x2="142.9" y2="190.3" stroke="#000" stroke-width="2.2"/>
<polygon points="147.7,205.5 137.8,190.8 147.3,187.8" fill="#000"/>
<path d="M115,219.5 Q123,219 128,224.4" stroke="#222" stroke-width="1.1" fill="none"/>
<polygon points="129,225.5 123.5,223.5 126.5,220.5" fill="#222"/>
<line x1="159.5" y1="232.0" x2="168.7" y2="246.7" stroke="#000" stroke-width="2.4"/>
<polygon points="176.2,258.5 164.0,248.5 172.4,243.1" fill="#000"/>
<line x1="182.0" y1="269.0" x2="192.2" y2="287.5" stroke="#000" stroke-width="2.4"/>
<polygon points="198.9,299.8 187.3,289.1 196.1,284.2" fill="#000"/>
<line x1="219.0" y1="331.0" x2="207.4" y2="337.3" stroke="#000" stroke-width="2.4"/>
<polygon points="196.0,343.5 205.7,332.0 210.9,341.6" fill="#000"/>
<line x1="200.7" y1="373.1" x2="199.4" y2="395.0" stroke="#000" stroke-width="2.4"/>
<polygon points="198.2,414.0 194.4,393.7 204.4,394.3" fill="#000"/>
<line x1="182.8" y1="440.3" x2="172.6" y2="436.7" stroke="#000" stroke-width="1.1"/>
<polygon points="168.8,435.4 174.2,435.2 172.9,438.9" fill="#000"/>
<line x1="188.6" y1="487.3" x2="178.0" y2="513.3" stroke="#000" stroke-width="2.2"/>
<polygon points="171.9,528.1 173.7,510.5 183.0,514.3" fill="#000"/>
<path d="M418.4,497 C418,480 420,460 426,448 C430,440 434,436 440,436 L500,436 C504,440 507,446 510,455 C513,468 515,480 523,497 Z" fill="url(#riboG)"/>
<path d="M460,508 C464,520 468,527 476,527 C484,527 489,520 492,508 Z" fill="#f6c8c4"/>
<defs><linearGradient id="bandG" gradientUnits="userSpaceOnUse" x1="330" y1="0" x2="360" y2="0"><stop offset="0" stop-color="#c8daee" stop-opacity="0"/><stop offset="1" stop-color="#c8daee" stop-opacity="1"/></linearGradient></defs>
<path d="M311.0,438.3 L312.4,438.6 L314.2,439.0 L316.4,439.4 L318.9,439.9 L321.5,440.5 L324.2,441.1 L326.8,441.9 L329.4,442.8 L331.9,443.8 L334.6,444.8 L337.3,446.0 L340.1,447.3 L342.8,448.6 L345.5,450.1 L348.0,451.6 L350.4,453.3 L352.6,455.1 L354.7,457.1 L356.8,459.2 L358.7,461.4 L360.6,463.6 L362.4,465.9 L364.2,468.2 L366.0,470.4 L367.7,472.7 L369.4,475.0 L371.0,477.3 L372.6,479.7 L374.2,482.1 L375.8,484.4 L377.4,486.6 L379.2,488.7 L381.0,490.7 L382.8,492.8 L384.7,494.8 L386.6,496.7 L388.6,498.5 L390.6,500.2 L392.8,501.8 L395.0,503.2 L397.4,504.4 L399.8,505.5 L402.4,506.5 L405.0,507.3 L407.7,508.1 L410.4,508.7 L413.2,509.4 L416.0,510.0 L418.8,510.6 L421.7,511.1 L424.7,511.6 L427.7,512.0 L430.7,512.4 L433.8,512.7 L436.9,513.0 L440.0,513.2 L443.2,513.3 L446.4,513.4 L449.6,513.3 L452.9,513.2 L456.2,513.1 L459.5,513.0 L462.7,513.0 L466.0,513.0 L469.3,513.1 L472.6,513.1 L475.9,513.2 L479.2,513.3 L482.5,513.4 L485.7,513.6 L488.9,513.8 L492.0,514.0 L495.0,514.3 L498.1,514.6 L501.1,515.0 L504.1,515.3 L506.9,515.8 L509.7,516.2 L512.3,516.6 L514.7,517.0 L516.9,517.5 L519.0,518.0 L520.9,518.5 L522.7,519.1 L524.4,519.6 L526.1,520.0 L527.8,520.3 L529.5,520.5 L531.2,520.5 L532.9,520.5 L534.6,520.4 L536.2,520.2 L537.9,519.9 L539.5,519.5 L541.2,519.0 L542.8,518.3 L544.5,517.5 L546.2,516.5 L547.9,515.3 L549.7,514.1 L551.4,512.8 L553.0,511.4 L554.6,510.1 L556.0,508.7 L557.3,507.3 L558.6,505.8 L559.8,504.3 L560.9,502.8 L562.0,501.2 L563.0,499.7 L564.0,498.3 L564.9,496.9 L565.8,495.6 L566.7,494.3 L567.6,493.0 L568.4,491.7 L569.2,490.6 L569.8,489.5 L570.4,488.7 L570.8,488.0 L570.8,467.5 L570.4,468.2 L569.8,469.0 L569.2,470.0 L568.4,471.1 L567.6,472.3 L566.7,473.6 L565.8,474.8 L564.9,476.1 L564.0,477.4 L563.0,478.8 L562.0,480.2 L560.9,481.7 L559.8,483.2 L558.6,484.6 L557.3,486.0 L556.0,487.3 L554.6,488.6 L553.0,489.9 L551.4,491.1 L549.7,492.3 L547.9,493.5 L546.2,494.5 L544.5,495.4 L542.8,496.1 L541.2,496.7 L539.5,497.1 L537.9,497.4 L536.2,497.6 L534.6,497.7 L532.9,497.7 L531.2,497.6 L529.5,497.5 L527.8,497.3 L526.1,497.0 L524.4,496.6 L522.7,496.1 L520.9,495.5 L519.0,495.0 L516.9,494.5 L514.7,494.0 L512.3,493.6 L509.7,493.2 L506.9,492.8 L504.1,492.3 L501.1,492.0 L498.1,491.6 L495.0,491.3 L492.0,491.0 L488.9,490.8 L485.7,490.6 L482.5,490.4 L479.2,490.3 L475.9,490.2 L472.6,490.1 L469.3,490.1 L466.0,490.0 L462.7,490.0 L459.5,490.0 L456.2,490.1 L452.9,490.2 L449.6,490.3 L446.4,490.4 L443.2,490.3 L440.0,490.2 L436.9,490.0 L433.8,489.7 L430.7,489.4 L427.7,489.0 L424.7,488.6 L421.7,488.1 L418.8,487.6 L416.0,487.0 L413.2,486.4 L410.4,485.7 L407.7,485.1 L405.0,484.3 L402.4,483.5 L399.8,482.5 L397.4,481.5 L395.0,480.4 L392.8,479.0 L390.6,477.5 L388.6,475.8 L386.6,474.1 L384.7,472.2 L382.8,470.3 L381.0,468.3 L379.2,466.3 L377.4,464.3 L375.8,462.1 L374.2,459.9 L372.6,457.6 L371.0,455.2 L369.4,452.9 L367.7,450.6 L366.0,448.4 L364.2,446.3 L362.4,444.0 L360.6,441.8 L358.7,439.6 L356.8,437.5 L354.7,435.5 L352.6,433.6 L350.4,431.8 L348.0,430.2 L345.5,428.7 L342.8,427.4 L340.1,426.1 L337.3,424.9 L334.6,423.8 L331.9,422.8 L329.4,421.8 L326.8,420.9 L324.2,420.1 L321.5,419.5 L318.9,418.9 L316.4,418.4 L314.2,418.0 L312.4,417.6 L311.0,417.3Z" fill="url(#bandG)"/>
<path d="M311.0,437.1 L312.4,437.4 L314.2,437.8 L316.4,438.2 L318.9,438.7 L321.5,439.3 L324.2,439.9 L326.8,440.7 L329.4,441.6 L331.9,442.6 L334.6,443.6 L337.3,444.8 L340.1,446.1 L342.8,447.4 L345.5,448.9 L348.0,450.4 L350.4,452.1 L352.6,453.9 L354.7,455.9 L356.8,458.0 L358.7,460.2 L360.6,462.4 L362.4,464.7 L364.2,467.0 L366.0,469.2 L367.7,471.5 L369.4,473.8 L371.0,476.1 L372.6,478.5 L374.2,480.9 L375.8,483.2 L377.4,485.4 L379.2,487.5 L381.0,489.5 L382.8,491.6 L384.7,493.6 L386.6,495.5 L388.6,497.3 L390.6,499.0 L392.8,500.6 L395.0,502.0 L397.4,503.2 L399.8,504.3 L402.4,505.3 L405.0,506.1 L407.7,506.9 L410.4,507.5 L413.2,508.2 L416.0,508.8 L418.8,509.4 L421.7,509.9 L424.7,510.4 L427.7,510.8 L430.7,511.2 L433.8,511.5 L436.9,511.8 L440.0,512.0 L443.2,512.1 L446.4,512.2 L449.6,512.1 L452.9,512.0 L456.2,511.9 L459.5,511.8 L462.7,511.8 L466.0,511.8 L469.3,511.9 L472.6,511.9 L475.9,512.0 L479.2,512.1 L482.5,512.2 L485.7,512.4 L488.9,512.6 L492.0,512.8 L495.0,513.1 L498.1,513.4 L501.1,513.8 L504.1,514.1 L506.9,514.6 L509.7,515.0 L512.3,515.4 L514.7,515.8 L516.9,516.3 L519.0,516.8 L520.9,517.3 L522.7,517.9 L524.4,518.4 L526.1,518.8 L527.8,519.1 L529.5,519.3 L531.2,519.3 L532.9,519.3 L534.6,519.2 L536.2,519.0 L537.9,518.7 L539.5,518.3 L541.2,517.8 L542.8,517.1 L544.5,516.3 L546.2,515.3 L547.9,514.1 L549.7,512.9 L551.4,511.6 L553.0,510.2 L554.6,508.9 L556.0,507.5 L557.3,506.1 L558.6,504.6 L559.8,503.1 L560.9,501.6 L562.0,500.0 L563.0,498.5 L564.0,497.1 L564.9,495.7 L565.8,494.4 L566.7,493.1 L567.6,491.8 L568.4,490.5 L569.2,489.4 L569.8,488.3 L570.4,487.5 L570.8,486.8 L570.8,475.0 L570.4,475.7 L569.8,476.5 L569.2,477.5 L568.4,478.6 L567.6,479.8 L566.7,481.1 L565.8,482.3 L564.9,483.6 L564.0,484.9 L563.0,486.3 L562.0,487.7 L560.9,489.2 L559.8,490.7 L558.6,492.1 L557.3,493.5 L556.0,494.8 L554.6,496.1 L553.0,497.4 L551.4,498.6 L549.7,499.8 L547.9,501.0 L546.2,502.0 L544.5,502.9 L542.8,503.6 L541.2,504.2 L539.5,504.6 L537.9,504.9 L536.2,505.1 L534.6,505.2 L532.9,505.2 L531.2,505.1 L529.5,505.0 L527.8,504.8 L526.1,504.5 L524.4,504.1 L522.7,503.6 L520.9,503.0 L519.0,502.5 L516.9,502.0 L514.7,501.5 L512.3,501.1 L509.7,500.7 L506.9,500.3 L504.1,499.8 L501.1,499.5 L498.1,499.1 L495.0,498.8 L492.0,498.5 L488.9,498.3 L485.7,498.1 L482.5,497.9 L479.2,497.8 L475.9,497.7 L472.6,497.6 L469.3,497.6 L466.0,497.5 L462.7,497.5 L459.5,497.5 L456.2,497.6 L452.9,497.7 L449.6,497.8 L446.4,497.9 L443.2,497.8 L440.0,497.7 L436.9,497.5 L433.8,497.2 L430.7,496.9 L427.7,496.5 L424.7,496.1 L421.7,495.6 L418.8,495.1 L416.0,494.5 L413.2,493.9 L410.4,493.2 L407.7,492.6 L405.0,491.8 L402.4,491.0 L399.8,490.0 L397.4,489.0 L395.0,487.9 L392.8,486.5 L390.6,485.0 L388.6,483.3 L386.6,481.6 L384.7,479.7 L382.8,477.8 L381.0,475.8 L379.2,473.8 L377.4,471.8 L375.8,469.6 L374.2,467.4 L372.6,465.1 L371.0,462.7 L369.4,460.4 L367.7,458.1 L366.0,455.9 L364.2,453.8 L362.4,451.5 L360.6,449.3 L358.7,447.1 L356.8,445.0 L354.7,443.0 L352.6,441.1 L350.4,439.3 L348.0,437.7 L345.5,436.2 L342.8,434.9 L340.1,433.6 L337.3,432.4 L334.6,431.3 L331.9,430.3 L329.4,429.3 L326.8,428.4 L324.2,427.6 L321.5,427.0 L318.9,426.4 L316.4,425.9 L314.2,425.5 L312.4,425.1 L311.0,424.8Z" fill="#f4f8fc"/>
<path d="M311.0,438.3 L312.4,438.6 L314.2,439.0 L316.4,439.4 L318.9,439.9 L321.5,440.5 L324.2,441.1 L326.8,441.9 L329.4,442.8 L331.9,443.8 L334.6,444.8 L337.3,446.0 L340.1,447.3 L342.8,448.6 L345.5,450.1 L348.0,451.6 L350.4,453.3 L352.6,455.1 L354.7,457.1 L356.8,459.2 L358.7,461.4 L360.6,463.6 L362.4,465.9 L364.2,468.2 L366.0,470.4 L367.7,472.7 L369.4,475.0 L371.0,477.3 L372.6,479.7 L374.2,482.1 L375.8,484.4 L377.4,486.6 L379.2,488.7 L381.0,490.7 L382.8,492.8 L384.7,494.8 L386.6,496.7 L388.6,498.5 L390.6,500.2 L392.8,501.8 L395.0,503.2 L397.4,504.4 L399.8,505.5 L402.4,506.5 L405.0,507.3 L407.7,508.1 L410.4,508.7 L413.2,509.4 L416.0,510.0 L418.8,510.6 L421.7,511.1 L424.7,511.6 L427.7,512.0 L430.7,512.4 L433.8,512.7 L436.9,513.0 L440.0,513.2 L443.2,513.3 L446.4,513.4 L449.6,513.3 L452.9,513.2 L456.2,513.1 L459.5,513.0 L462.7,513.0 L466.0,513.0 L469.3,513.1 L472.6,513.1 L475.9,513.2 L479.2,513.3 L482.5,513.4 L485.7,513.6 L488.9,513.8 L492.0,514.0 L495.0,514.3 L498.1,514.6 L501.1,515.0 L504.1,515.3 L506.9,515.8 L509.7,516.2 L512.3,516.6 L514.7,517.0 L516.9,517.5 L519.0,518.0 L520.9,518.5 L522.7,519.1 L524.4,519.6 L526.1,520.0 L527.8,520.3 L529.5,520.5 L531.2,520.5 L532.9,520.5 L534.6,520.4 L536.2,520.2 L537.9,519.9 L539.5,519.5 L541.2,519.0 L542.8,518.3 L544.5,517.5 L546.2,516.5 L547.9,515.3 L549.7,514.1 L551.4,512.8 L553.0,511.4 L554.6,510.1 L556.0,508.7 L557.3,507.3 L558.6,505.8 L559.8,504.3 L560.9,502.8 L562.0,501.2 L563.0,499.7 L564.0,498.3 L564.9,496.9 L565.8,495.6 L566.7,494.3 L567.6,493.0 L568.4,491.7 L569.2,490.6 L569.8,489.5 L570.4,488.7 L570.8,488.0" stroke="#56688c" stroke-width="1.5" fill="none"/>
<line x1="318.8" y1="438.9" x2="318.8" y2="427.9" stroke="#1f9a3a" stroke-width="2.3"/>
<text x="318.8" y="425.9" font-size="7" text-anchor="middle" fill="#1f9a3a">A</text>
<line x1="326.5" y1="440.8" x2="326.5" y2="429.8" stroke="#e0202a" stroke-width="2.3"/>
<text x="326.5" y="427.8" font-size="7" text-anchor="middle" fill="#e0202a">U</text>
<line x1="333.9" y1="443.6" x2="333.9" y2="432.6" stroke="#111111" stroke-width="2.3"/>
<text x="333.9" y="430.6" font-size="7" text-anchor="middle" fill="#111111">G</text>
<line x1="341.1" y1="446.8" x2="341.1" y2="435.6" stroke="#1f9a3a" stroke-width="2.3"/>
<text x="341.1" y="433.6" font-size="7" text-anchor="middle" fill="#1f9a3a">A</text>
<line x1="348.0" y1="450.6" x2="348.0" y2="439.2" stroke="#6aa2d8" stroke-width="2.3"/>
<text x="348.0" y="437.2" font-size="7" text-anchor="middle" fill="#7aaee0">C</text>
<line x1="354.2" y1="455.6" x2="354.2" y2="444.0" stroke="#111111" stroke-width="2.3"/>
<text x="354.2" y="442.0" font-size="7" text-anchor="middle" fill="#111111">G</text>
<line x1="359.5" y1="461.4" x2="359.5" y2="449.6" stroke="#111111" stroke-width="2.3"/>
<text x="359.5" y="447.6" font-size="7" text-anchor="middle" fill="#111111">G</text>
<line x1="364.5" y1="467.5" x2="364.5" y2="455.6" stroke="#1f9a3a" stroke-width="2.3"/>
<text x="364.5" y="453.6" font-size="7" text-anchor="middle" fill="#1f9a3a">A</text>
<line x1="369.3" y1="473.8" x2="369.3" y2="461.7" stroke="#e0202a" stroke-width="2.3"/>
<text x="369.3" y="459.7" font-size="7" text-anchor="middle" fill="#e0202a">U</text>
<line x1="373.7" y1="480.3" x2="373.7" y2="468.2" stroke="#6aa2d8" stroke-width="2.3"/>
<text x="373.7" y="466.2" font-size="7" text-anchor="middle" fill="#7aaee0">C</text>
<line x1="378.4" y1="486.7" x2="378.4" y2="474.4" stroke="#1f9a3a" stroke-width="2.3"/>
<text x="378.4" y="472.4" font-size="7" text-anchor="middle" fill="#1f9a3a">A</text>
<line x1="383.6" y1="492.6" x2="383.6" y2="480.1" stroke="#e0202a" stroke-width="2.3"/>
<text x="383.6" y="478.1" font-size="7" text-anchor="middle" fill="#e0202a">U</text>
<line x1="389.3" y1="498.1" x2="389.3" y2="485.4" stroke="#6aa2d8" stroke-width="2.3"/>
<text x="389.3" y="483.4" font-size="7" text-anchor="middle" fill="#7aaee0">C</text>
<line x1="395.8" y1="502.6" x2="395.8" y2="489.7" stroke="#1f9a3a" stroke-width="2.3"/>
<text x="395.8" y="487.7" font-size="7" text-anchor="middle" fill="#1f9a3a">A</text>
<line x1="403.0" y1="505.7" x2="403.0" y2="492.7" stroke="#111111" stroke-width="2.3"/>
<text x="403.0" y="490.7" font-size="7" text-anchor="middle" fill="#111111">G</text>
<line x1="410.6" y1="507.8" x2="410.6" y2="494.8" stroke="#6aa2d8" stroke-width="2.3"/>
<text x="410.6" y="492.8" font-size="7" text-anchor="middle" fill="#7aaee0">C</text>
<line x1="418.3" y1="509.5" x2="418.3" y2="496.5" stroke="#6aa2d8" stroke-width="2.3"/>
<text x="418.3" y="494.5" font-size="7" text-anchor="middle" fill="#7aaee0">C</text>
<line x1="426.1" y1="510.8" x2="426.1" y2="497.8" stroke="#111111" stroke-width="2.3"/>
<text x="426.1" y="495.8" font-size="7" text-anchor="middle" fill="#111111">G</text>
<line x1="434.0" y1="511.7" x2="434.0" y2="498.7" stroke="#6aa2d8" stroke-width="2.3"/>
<text x="434.0" y="496.7" font-size="7" text-anchor="middle" fill="#7aaee0">C</text>
<line x1="441.9" y1="512.3" x2="441.9" y2="499.3" stroke="#1f9a3a" stroke-width="2.3"/>
<text x="441.9" y="497.3" font-size="7" text-anchor="middle" fill="#1f9a3a">A</text>
<line x1="449.8" y1="512.3" x2="449.8" y2="499.3" stroke="#1f9a3a" stroke-width="2.3"/>
<text x="449.8" y="497.3" font-size="7" text-anchor="middle" fill="#1f9a3a">A</text>
<line x1="457.6" y1="512.1" x2="457.6" y2="499.1" stroke="#111111" stroke-width="2.3"/>
<text x="457.6" y="497.1" font-size="7" text-anchor="middle" fill="#111111">G</text>
<line x1="465.5" y1="512.0" x2="465.5" y2="499.0" stroke="#6aa2d8" stroke-width="2.3"/>
<text x="465.5" y="497.0" font-size="7" text-anchor="middle" fill="#7aaee0">C</text>
<line x1="473.4" y1="512.1" x2="473.4" y2="499.1" stroke="#111111" stroke-width="2.3"/>
<text x="473.4" y="497.1" font-size="7" text-anchor="middle" fill="#111111">G</text>
<line x1="481.3" y1="512.4" x2="481.3" y2="499.4" stroke="#111111" stroke-width="2.3"/>
<text x="481.3" y="497.4" font-size="7" text-anchor="middle" fill="#111111">G</text>
<line x1="489.2" y1="512.8" x2="489.2" y2="499.8" stroke="#1f9a3a" stroke-width="2.3"/>
<text x="489.2" y="497.8" font-size="7" text-anchor="middle" fill="#1f9a3a">A</text>
<line x1="497.1" y1="513.5" x2="497.1" y2="500.5" stroke="#1f9a3a" stroke-width="2.3"/>
<text x="497.1" y="498.5" font-size="7" text-anchor="middle" fill="#1f9a3a">A</text>
<line x1="504.9" y1="514.5" x2="504.9" y2="501.5" stroke="#e0202a" stroke-width="2.3"/>
<text x="504.9" y="499.5" font-size="7" text-anchor="middle" fill="#e0202a">U</text>
<line x1="512.7" y1="515.7" x2="512.7" y2="502.7" stroke="#e0202a" stroke-width="2.3"/>
<text x="512.7" y="500.7" font-size="7" text-anchor="middle" fill="#e0202a">U</text>
<line x1="520.4" y1="517.4" x2="520.4" y2="504.4" stroke="#111111" stroke-width="2.3"/>
<text x="520.4" y="502.4" font-size="7" text-anchor="middle" fill="#111111">G</text>
<line x1="528.1" y1="519.4" x2="528.1" y2="506.4" stroke="#111111" stroke-width="2.3"/>
<text x="528.1" y="504.4" font-size="7" text-anchor="middle" fill="#111111">G</text>
<line x1="536.0" y1="519.3" x2="536.0" y2="506.6" stroke="#6aa2d8" stroke-width="2.3"/>
<text x="536.0" y="504.6" font-size="7" text-anchor="middle" fill="#7aaee0">C</text>
<line x1="543.5" y1="517.0" x2="543.5" y2="504.8" stroke="#111111" stroke-width="2.3"/>
<text x="543.5" y="502.8" font-size="7" text-anchor="middle" fill="#111111">G</text>
<line x1="550.1" y1="512.7" x2="550.1" y2="501.0" stroke="#e0202a" stroke-width="2.3"/>
<text x="550.1" y="499.0" font-size="7" text-anchor="middle" fill="#e0202a">U</text>
<line x1="556.1" y1="507.6" x2="556.1" y2="496.2" stroke="#e0202a" stroke-width="2.3"/>
<text x="556.1" y="494.2" font-size="7" text-anchor="middle" fill="#e0202a">U</text>
<line x1="561.1" y1="501.5" x2="561.1" y2="490.4" stroke="#e0202a" stroke-width="2.3"/>
<text x="561.1" y="488.4" font-size="7" text-anchor="middle" fill="#e0202a">U</text>
<line x1="565.6" y1="494.9" x2="565.6" y2="484.2" stroke="#e0202a" stroke-width="2.3"/>
<text x="565.6" y="482.2" font-size="7" text-anchor="middle" fill="#e0202a">U</text>
<text x="303" y="441" font-size="8" font-weight="normal" fill="#334" stroke="#334" stroke-width="0.25" >5'</text>
<text x="568" y="484" font-size="8" font-weight="normal" fill="#334" stroke="#334" stroke-width="0.25" >3'</text>
<polygon points="415.8,534.6 470.6,534.6 470.6,529.7 520.3,540.2 470.6,550.6 470.6,545.7 415.8,545.7" fill="#000"/>
<g transform="translate(450.9,444) rotate(0) translate(-14.5,-30.0)"><rect x="0" y="0" width="29" height="60" fill="url(#boxG)"/><g transform="scale(1,1.0)"><path d="M14,16 V23 H6.3 M6.3,27 H13 C13,31 6.5,31.5 6.5,35 V40 H24.7 V37 C24.7,32 18.4,30 18.4,24.5 H25.6 M25.6,21 H18.4 V12.6" stroke="#3a78c4" stroke-width="2" fill="none"/><circle cx="3.7" cy="25.1" r="2.6" stroke="#3a78c4" stroke-width="1.9" fill="#d6e6f5"/><circle cx="28.3" cy="22.8" r="2.6" stroke="#3a78c4" stroke-width="1.9" fill="#d6e6f5"/><line x1="7.9" y1="41" x2="7.9" y2="49.5" stroke="#111" stroke-width="2.2"/><line x1="15.8" y1="42" x2="15.8" y2="50.5" stroke="#e0202a" stroke-width="2.4"/><line x1="22.6" y1="41.5" x2="22.6" y2="50" stroke="#e0202a" stroke-width="2.4"/><text x="7.9" y="55.5" font-size="6" text-anchor="middle" fill="#333">G</text><text x="15.8" y="56" font-size="6" text-anchor="middle" fill="#e07090">U</text><text x="22.6" y="56" font-size="6" text-anchor="middle" fill="#e07090">U</text></g></g>
<g transform="translate(483.6,441.0) rotate(0) translate(-15.0,-25.5)"><rect x="0" y="0" width="30" height="51" fill="url(#boxG)"/><g transform="scale(1,0.93)"><path d="M14,16 V23 H6.3 M6.3,27 H13 C13,31 6.5,31.5 6.5,35 V40 H24.7 V37 C24.7,32 18.4,30 18.4,24.5 H25.6 M25.6,21 H18.4 V12.6" stroke="#3a78c4" stroke-width="2" fill="none"/><circle cx="3.7" cy="25.1" r="2.6" stroke="#3a78c4" stroke-width="1.9" fill="#d6e6f5"/><circle cx="28.3" cy="22.8" r="2.6" stroke="#3a78c4" stroke-width="1.9" fill="#d6e6f5"/><line x1="7.9" y1="41" x2="7.9" y2="49.5" stroke="#111" stroke-width="2.2"/><line x1="15.8" y1="42" x2="15.8" y2="50.5" stroke="#e0202a" stroke-width="2.4"/><line x1="22.6" y1="41.5" x2="22.6" y2="50" stroke="#e0202a" stroke-width="2.4"/><text x="7.9" y="55.5" font-size="6" text-anchor="middle" fill="#333">G</text><text x="15.8" y="56" font-size="6" text-anchor="middle" fill="#e07090">U</text><text x="22.6" y="56" font-size="6" text-anchor="middle" fill="#e07090">U</text></g></g>
<g transform="translate(389,419.5) rotate(25) translate(-15.0,-25.5)"><rect x="0" y="0" width="30" height="51" fill="url(#boxG)"/><g transform="scale(1,0.93)"><path d="M14,16 V23 H6.3 M6.3,27 H13 C13,31 6.5,31.5 6.5,35 V40 H24.7 V37 C24.7,32 18.4,30 18.4,24.5 H25.6 M25.6,21 H18.4 V12.6" stroke="#3a78c4" stroke-width="2" fill="none"/><circle cx="3.7" cy="25.1" r="2.6" stroke="#3a78c4" stroke-width="1.9" fill="#d6e6f5"/><circle cx="28.3" cy="22.8" r="2.6" stroke="#3a78c4" stroke-width="1.9" fill="#d6e6f5"/><line x1="7.9" y1="41" x2="7.9" y2="49.5" stroke="#111" stroke-width="2.2"/><line x1="15.8" y1="42" x2="15.8" y2="50.5" stroke="#e0202a" stroke-width="2.4"/><line x1="22.6" y1="41.5" x2="22.6" y2="50" stroke="#e0202a" stroke-width="2.4"/><text x="7.9" y="55.5" font-size="6" text-anchor="middle" fill="#333">G</text><text x="15.8" y="56" font-size="6" text-anchor="middle" fill="#e07090">U</text><text x="22.6" y="56" font-size="6" text-anchor="middle" fill="#e07090">U</text></g></g>
<g transform="translate(536.6,405.1) rotate(-18) translate(-14.5,-26.0)"><rect x="0" y="0" width="29" height="52" fill="url(#boxG)"/><g transform="scale(1,0.93)"><path d="M14,16 V23 H6.3 M6.3,27 H13 C13,31 6.5,31.5 6.5,35 V40 H24.7 V37 C24.7,32 18.4,30 18.4,24.5 H25.6 M25.6,21 H18.4 V12.6" stroke="#3a78c4" stroke-width="2" fill="none"/><circle cx="3.7" cy="25.1" r="2.6" stroke="#3a78c4" stroke-width="1.9" fill="#d6e6f5"/><circle cx="28.3" cy="22.8" r="2.6" stroke="#3a78c4" stroke-width="1.9" fill="#d6e6f5"/><line x1="7.9" y1="41" x2="7.9" y2="49.5" stroke="#111" stroke-width="2.2"/><line x1="15.8" y1="42" x2="15.8" y2="50.5" stroke="#e0202a" stroke-width="2.4"/><line x1="22.6" y1="41.5" x2="22.6" y2="50" stroke="#e0202a" stroke-width="2.4"/><text x="7.9" y="55.5" font-size="6" text-anchor="middle" fill="#333">G</text><text x="15.8" y="56" font-size="6" text-anchor="middle" fill="#e07090">U</text><text x="22.6" y="56" font-size="6" text-anchor="middle" fill="#e07090">U</text></g></g>
<g stroke="#111" stroke-width="2"><line x1="360" y1="410.5" x2="376" y2="411.5"/><line x1="403" y1="389" x2="397" y2="398.7"/><line x1="542.3" y1="382.7" x2="558" y2="360"/></g>
<line x1="429.5" y1="452.0" x2="410.0" y2="445.1" stroke="#000" stroke-width="2.2"/>
<polygon points="394.9,439.7 412.6,440.7 409.2,450.1" fill="#000"/>
<line x1="526.5" y1="440.0" x2="509.6" y2="444.3" stroke="#000" stroke-width="2.2"/>
<polygon points="496.0,447.8 509.2,438.8 511.9,449.4" fill="#000"/>
<path d="M391.7,335.3 L418.4,357.3 L440.7,380.7 L467.4,399.9 L496.1,399.9" stroke="#111" stroke-width="2" fill="none"/>
<line x1="421" y1="356.5" x2="436" y2="356.5" stroke="#777" stroke-width="1"/>
<line x1="496" y1="406" x2="494" y2="415" stroke="#c090c0" stroke-width="1"/>
<circle cx="391.7" cy="335.3" r="9" fill="url(#ballG)" stroke="#a463ac" stroke-width="0.9"/>
<circle cx="418.4" cy="357.3" r="9" fill="url(#ballG)" stroke="#a463ac" stroke-width="0.9"/>
<circle cx="440.7" cy="380.7" r="7.8" fill="url(#ballG)" stroke="#a463ac" stroke-width="0.9"/>
<text x="440.7" y="383.5" font-size="8" text-anchor="middle" fill="#3a2a40" textLength="13.3" lengthAdjust="spacingAndGlyphs">Asp</text>
<circle cx="467.4" cy="399.9" r="7.8" fill="url(#ballG)" stroke="#a463ac" stroke-width="0.9"/>
<text x="467.4" y="402.7" font-size="8" text-anchor="middle" fill="#3a2a40" textLength="13.3" lengthAdjust="spacingAndGlyphs">Phe</text>
<circle cx="496.1" cy="400.3" r="8.2" fill="url(#ballG)" stroke="#a463ac" stroke-width="0.9"/>
<text x="496.1" y="403.1" font-size="8" text-anchor="middle" fill="#3a2a40" textLength="13.9" lengthAdjust="spacingAndGlyphs">Trp</text>
<circle cx="533.5" cy="364.5" r="8.3" fill="url(#ballG)" stroke="#a463ac" stroke-width="0.9"/>
<text x="533.5" y="367.3" font-size="8" text-anchor="middle" fill="#3a2a40" textLength="14.1" lengthAdjust="spacingAndGlyphs">Lys</text>
<text x="46.3" y="77" font-size="9" font-weight="normal" fill="#2a3550" stroke="#2a3550" stroke-width="0.25" >DNA</text>
<text x="51" y="137" font-size="9" font-weight="normal" fill="#2a3550" stroke="#2a3550" stroke-width="0.25" >RNA</text>
<text x="111.5" y="104.6" font-size="14.3" font-weight="bold" fill="#2b2d3a" stroke="#2b2d3a" stroke-width="0.25" >1.Transcription</text>
<text x="204" y="141" font-size="14" font-weight="normal" fill="#1a1a1a" stroke="#1a1a1a" stroke-width="0.25" >RNA polymase</text>
<text x="265" y="166.4" font-size="14" font-weight="normal" fill="#1a1a1a" stroke="#1a1a1a" stroke-width="0.25" >Nuclear membrane</text>
<text x="15.7" y="172.8" font-size="14" font-weight="normal" fill="#1a1a1a" stroke="#1a1a1a" stroke-width="0.25" >2. mRNA processing</text>
<text x="196" y="207.7" font-size="12" font-weight="normal" fill="#1a1a1a" stroke="#1a1a1a" stroke-width="0.25" >Processed mRNA leaves the nucleus</text>
<text x="15" y="273.6" font-size="14" font-weight="normal" fill="#1a1a1a" stroke="#1a1a1a" stroke-width="0.25" >3. Attachment of</text>
<text x="15" y="290.2" font-size="14" font-weight="normal" fill="#1a1a1a" stroke="#1a1a1a" stroke-width="0.25" >ribosomal subunits</text>
<text x="15" y="340.2" font-size="14" font-weight="normal" fill="#1a1a1a" stroke="#1a1a1a" stroke-width="0.25" >4. Translation</text>
<text x="240.7" y="306.5" font-size="12" font-weight="normal" fill="#1a1a1a" stroke="#1a1a1a" stroke-width="0.25" >Amino Acid</text>
<text x="240.7" y="334" font-size="12" font-weight="normal" fill="#1a1a1a" stroke="#1a1a1a" stroke-width="0.25" >tRNA</text>
<text x="438.7" y="336.5" font-size="12" font-weight="normal" fill="#1a1a1a" stroke="#1a1a1a" stroke-width="0.25" >Growing</text>
<text x="438.7" y="350.5" font-size="12" font-weight="normal" fill="#1a1a1a" stroke="#1a1a1a" stroke-width="0.25" >amino</text>
<text x="438.7" y="365.4" font-size="12" font-weight="normal" fill="#1a1a1a" stroke="#1a1a1a" stroke-width="0.25" >acid chain</text>
<text x="528.4" y="331.8" font-size="12" font-weight="normal" fill="#1a1a1a" stroke="#1a1a1a" stroke-width="0.25" >Incoming tRNA</text>
<text x="528.4" y="344.9" font-size="12" font-weight="normal" fill="#1a1a1a" stroke="#1a1a1a" stroke-width="0.25" >bound to an</text>
<text x="528.4" y="359.8" font-size="12" font-weight="normal" fill="#1a1a1a" stroke="#1a1a1a" stroke-width="0.25" >amino acid</text>
<text x="307.5" y="405.6" font-size="12" font-weight="normal" fill="#1a1a1a" stroke="#1a1a1a" stroke-width="0.25" >empty tRNA</text>
<text x="15" y="543" font-size="14" font-weight="normal" fill="#1a1a1a" stroke="#1a1a1a" stroke-width="0.25" >5. Termination</text>
<text x="198.5" y="542" font-size="11.5" font-weight="normal" fill="#1a1a1a" stroke="#1a1a1a" stroke-width="0.25" >mRNA</text>
<text x="91" y="582" font-size="12" font-weight="normal" fill="#1a1a1a" stroke="#1a1a1a" stroke-width="0.25" >Ribosomal</text>
<text x="91" y="595.7" font-size="12" font-weight="normal" fill="#1a1a1a" stroke="#1a1a1a" stroke-width="0.25" >subunits</text>
<text x="220" y="582" font-size="12" font-weight="normal" fill="#1a1a1a" stroke="#1a1a1a" stroke-width="0.25" >completed peptide</text>
<g stroke="#111" stroke-width="1.5"><line x1="211.5" y1="118" x2="211.5" y2="127"/><line x1="274" y1="144.5" x2="274" y2="157"/></g>
</svg></body></html>
